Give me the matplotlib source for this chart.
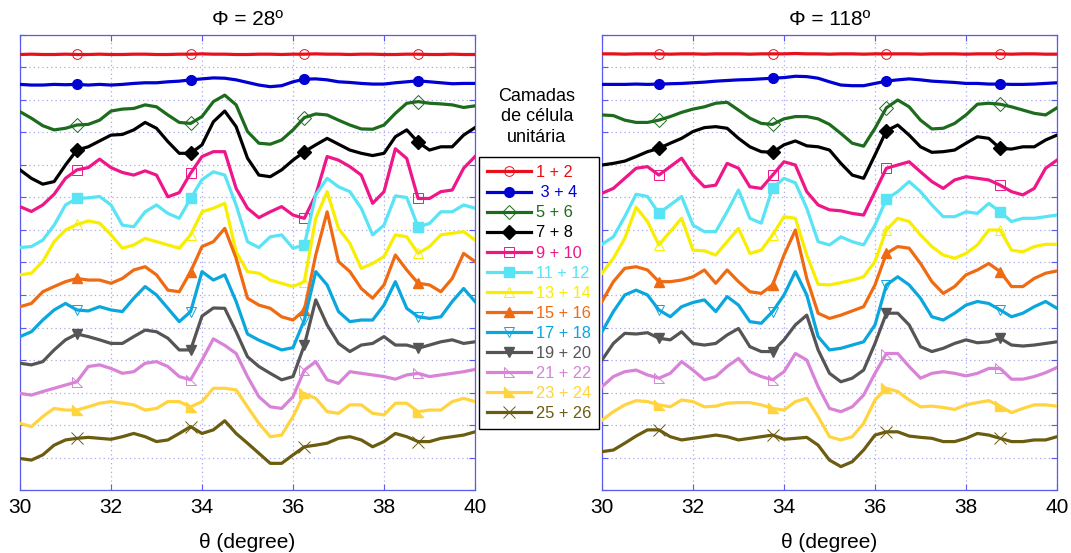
import numpy as np
import matplotlib.pyplot as plt
from matplotlib.path import Path

plt.rcParams['font.family'] = ['Liberation Sans', 'DejaVu Sans']

# x axis samples (degree)
theta = np.linspace(30, 40, 41)

labels = ['1 + 2', ' 3 + 4', '5 + 6', '7 + 8', '9 + 10', '11 + 12', '13 + 14',
          '15 + 16', '17 + 18', '19 + 20', '21 + 22', '23 + 24', '25 + 26']

# --- Phi = 28 ---
red_28 = [13.40, 13.41, 13.40, 13.40, 13.41, 13.40, 13.40, 13.41, 13.40, 13.40, 13.41,
          13.41, 13.40, 13.40, 13.41, 13.41, 13.42, 13.41, 13.41, 13.40, 13.40, 13.41,
          13.41, 13.40, 13.41, 13.41, 13.42, 13.41, 13.41, 13.40, 13.41, 13.41, 13.40,
          13.40, 13.41, 13.41, 13.40, 13.40, 13.41, 13.40, 13.40]
blue_28 = [12.48, 12.46, 12.46, 12.48, 12.47, 12.48, 12.46, 12.48, 12.46, 12.48, 12.51,
           12.53, 12.53, 12.56, 12.58, 12.62, 12.65, 12.68, 12.67, 12.62, 12.54, 12.46,
           12.41, 12.44, 12.56, 12.64, 12.65, 12.62, 12.56, 12.54, 12.51, 12.49, 12.49,
           12.53, 12.56, 12.59, 12.56, 12.53, 12.50, 12.51, 12.51]
green_28 = [11.64, 11.44, 11.21, 11.08, 11.13, 11.23, 11.25, 11.38, 11.66, 11.72, 11.74,
            11.85, 11.79, 11.54, 11.31, 11.28, 11.49, 11.95, 12.15, 11.85, 11.03, 10.67,
            10.64, 10.77, 11.08, 11.46, 11.57, 11.54, 11.38, 11.23, 11.11, 11.10, 11.23,
            11.59, 11.90, 11.95, 11.90, 11.88, 11.85, 11.77, 11.82]
black_28 = [9.85, 9.59, 9.41, 9.49, 10.00, 10.46, 10.56, 10.74, 10.92, 10.94, 11.08,
            11.31, 11.13, 10.72, 10.36, 10.36, 10.62, 11.33, 11.66, 11.18, 10.21, 9.69,
            9.64, 9.85, 10.15, 10.41, 10.62, 10.82, 10.64, 10.46, 10.36, 10.29, 10.36,
            10.87, 11.08, 10.70, 10.46, 10.56, 10.56, 10.92, 11.15]
magenta_28 = [8.72, 8.57, 8.77, 9.10, 9.59, 9.85, 9.92, 10.18, 9.92, 9.77, 9.69,
              9.82, 9.69, 9.02, 9.15, 9.75, 10.26, 10.41, 10.41, 9.28, 8.67, 8.38,
              8.56, 8.72, 8.46, 8.36, 9.08, 10.26, 10.15, 9.95, 9.69, 8.82, 9.18,
              10.50, 10.20, 8.97, 8.97, 9.18, 9.23, 9.90, 10.26]
cyan_28 = [7.46, 7.49, 7.69, 8.15, 8.77, 8.97, 8.99, 9.03, 8.77, 8.15, 8.10,
           8.56, 8.77, 8.51, 8.36, 8.97, 9.55, 9.79, 9.69, 8.77, 7.64, 7.46,
           7.79, 7.85, 7.44, 7.54, 9.08, 9.59, 9.33, 9.18, 8.67, 7.85, 8.15,
           9.05, 9.00, 8.10, 8.20, 8.56, 8.56, 8.77, 8.67]
yellow_28 = [6.62, 6.67, 7.03, 7.64, 8.00, 8.17, 8.28, 8.21, 7.85, 7.44, 7.54,
             7.74, 7.64, 7.54, 7.44, 7.85, 8.56, 8.67, 8.82, 7.33, 6.72, 6.67,
             6.46, 6.36, 6.26, 6.41, 8.36, 9.18, 8.05, 7.59, 6.82, 6.97, 7.18,
             7.85, 7.79, 7.28, 7.49, 7.85, 7.90, 7.95, 7.69]
orange_28 = [5.64, 5.74, 6.10, 6.26, 6.41, 6.51, 6.46, 6.46, 6.36, 6.51, 6.77,
             6.87, 6.62, 6.15, 6.10, 6.72, 7.49, 7.64, 8.05, 7.13, 5.90, 5.69,
             5.59, 5.33, 5.23, 5.54, 7.23, 8.56, 7.03, 6.72, 6.20, 5.90, 6.31,
             7.23, 6.77, 6.36, 6.31, 6.10, 6.51, 7.28, 7.03]
skyblue_28 = [4.72, 4.87, 5.23, 5.54, 5.74, 5.54, 5.51, 5.64, 5.54, 5.49, 5.90,
              6.26, 6.00, 5.59, 5.18, 5.49, 6.72, 6.46, 6.62, 5.80, 4.80, 4.61,
              4.46, 4.31, 4.38, 5.23, 6.72, 6.31, 5.49, 5.18, 5.23, 5.23, 5.69,
              6.41, 5.59, 5.33, 5.28, 5.33, 5.80, 6.20, 5.80]
gray_28 = [3.90, 3.85, 3.95, 4.31, 4.62, 4.80, 4.72, 4.62, 4.51, 4.51, 4.72,
           4.92, 4.87, 4.67, 4.31, 4.31, 5.35, 5.60, 5.59, 4.87, 4.10, 3.80,
           3.59, 3.39, 3.49, 4.46, 5.85, 5.08, 4.51, 4.26, 4.46, 4.51, 4.72,
           4.46, 4.46, 4.36, 4.46, 4.56, 4.62, 4.51, 4.56]
orchid_28 = [2.97, 2.92, 3.03, 3.13, 3.23, 3.33, 3.80, 3.85, 3.74, 3.59, 3.64,
             3.90, 3.95, 3.80, 3.49, 3.39, 4.00, 4.65, 4.45, 4.20, 3.49, 2.87,
             2.56, 2.51, 2.87, 3.69, 3.95, 3.39, 3.28, 3.64, 3.59, 3.54, 3.49,
             3.41, 3.54, 3.59, 3.49, 3.54, 3.59, 3.64, 3.71]
gold_28 = [2.05, 1.95, 2.26, 2.51, 2.46, 2.46, 2.56, 2.67, 2.72, 2.67, 2.62,
           2.46, 2.51, 2.72, 2.72, 2.56, 2.72, 3.13, 3.13, 3.08, 2.56, 2.05,
           1.64, 1.69, 2.26, 2.97, 2.82, 2.41, 2.36, 2.62, 2.62, 2.36, 2.31,
           2.67, 2.67, 2.41, 2.46, 2.46, 2.72, 2.82, 2.72]
olive_28 = [0.97, 0.92, 1.08, 1.38, 1.54, 1.59, 1.62, 1.59, 1.56, 1.64, 1.74,
            1.64, 1.49, 1.54, 1.74, 1.95, 1.74, 1.85, 2.13, 1.74, 1.44, 1.13,
            0.82, 0.82, 1.08, 1.33, 1.38, 1.44, 1.59, 1.64, 1.54, 1.33, 1.49,
            1.74, 1.64, 1.49, 1.49, 1.59, 1.64, 1.69, 1.79]

# --- Phi = 118 ---
red_118 = [13.42, 13.42, 13.41, 13.42, 13.42, 13.42, 13.41, 13.42, 13.42, 13.41, 13.42,
           13.42, 13.42, 13.41, 13.42, 13.42, 13.42, 13.43, 13.42, 13.42, 13.41, 13.42,
           13.42, 13.41, 13.42, 13.42, 13.42, 13.42, 13.41, 13.42, 13.42, 13.42, 13.41,
           13.42, 13.42, 13.42, 13.41, 13.42, 13.42, 13.41, 13.41]
blue_118 = [12.48, 12.48, 12.48, 12.49, 12.48, 12.49, 12.50, 12.51, 12.53, 12.55, 12.58,
            12.60, 12.62, 12.63, 12.65, 12.67, 12.69, 12.73, 12.72, 12.67, 12.56, 12.46,
            12.44, 12.44, 12.51, 12.58, 12.62, 12.65, 12.62, 12.58, 12.56, 12.54, 12.51,
            12.51, 12.49, 12.49, 12.48, 12.48, 12.49, 12.51, 12.53]
green_118 = [11.54, 11.52, 11.38, 11.31, 11.31, 11.38, 11.49, 11.62, 11.72, 11.79, 11.90,
             11.93, 11.69, 11.44, 11.28, 11.25, 11.42, 11.49, 11.49, 11.42, 11.25, 10.97,
             10.67, 10.58, 11.13, 11.76, 12.00, 11.79, 11.38, 11.11, 11.13, 11.28, 11.54,
             11.87, 11.90, 11.87, 11.79, 11.69, 11.59, 11.54, 11.76]
black_118 = [10.00, 10.05, 10.12, 10.26, 10.41, 10.51, 10.67, 10.82, 11.03, 11.15, 11.18,
             11.13, 10.82, 10.56, 10.41, 10.39, 10.62, 10.74, 10.59, 10.56, 10.46, 10.05,
             9.69, 9.59, 10.31, 11.05, 11.23, 10.92, 10.56, 10.39, 10.41, 10.46, 10.67,
             10.87, 10.82, 10.51, 10.49, 10.56, 10.56, 10.77, 10.92]
magenta_118 = [9.13, 9.28, 9.59, 9.90, 9.95, 9.69, 9.95, 10.21, 9.69, 9.33, 9.38,
               10.05, 9.90, 9.33, 9.28, 9.69, 10.10, 10.00, 9.18, 8.77, 8.62, 8.59,
               8.51, 8.46, 9.18, 9.90, 10.00, 10.10, 9.79, 9.49, 9.28, 9.54, 9.64,
               9.59, 9.54, 9.38, 9.18, 9.08, 9.28, 9.90, 10.15]
cyan_118 = [7.56, 7.79, 8.41, 9.10, 9.03, 8.51, 8.77, 9.03, 8.15, 7.95, 7.95,
            8.56, 9.23, 8.36, 8.21, 9.30, 9.59, 9.45, 8.67, 7.64, 7.54, 7.79,
            7.64, 7.54, 8.15, 8.95, 9.18, 9.49, 9.18, 8.77, 8.41, 8.41, 8.56,
            8.51, 8.82, 8.56, 8.26, 8.36, 8.36, 8.41, 8.46]
yellow_118 = [6.67, 7.13, 7.74, 8.70, 8.26, 7.54, 7.95, 8.36, 7.38, 7.36, 7.23,
              7.64, 8.05, 7.28, 7.38, 7.85, 8.41, 8.36, 7.23, 6.33, 6.31, 6.38,
              6.46, 6.56, 7.03, 8.00, 8.36, 8.26, 7.85, 7.49, 7.23, 7.13, 7.28,
              7.54, 8.00, 8.00, 7.38, 7.33, 7.49, 7.56, 7.56]
orange_118 = [5.80, 6.41, 6.82, 6.87, 6.77, 6.41, 6.41, 6.46, 6.56, 6.77, 6.36,
              6.77, 6.41, 6.10, 6.05, 6.31, 7.23, 8.00, 6.51, 5.44, 5.28, 5.38,
              5.51, 5.64, 6.31, 7.28, 7.49, 7.44, 6.97, 6.41, 6.05, 6.26, 6.62,
              6.77, 6.97, 6.72, 6.26, 6.26, 6.51, 6.67, 6.74]
skyblue_118 = [4.87, 5.49, 6.00, 6.15, 6.00, 5.54, 5.33, 5.64, 5.77, 5.85, 5.49,
               5.95, 5.69, 5.18, 5.13, 5.49, 6.00, 6.72, 6.00, 4.72, 4.31, 4.36,
               4.46, 4.56, 5.08, 6.31, 6.56, 6.31, 5.90, 5.33, 5.23, 5.44, 5.69,
               5.80, 5.74, 5.54, 5.33, 5.44, 5.64, 5.80, 5.59]
gray_118 = [4.00, 4.51, 4.82, 4.80, 4.84, 4.67, 4.62, 4.87, 4.51, 4.46, 4.51,
            4.77, 4.97, 4.41, 4.26, 4.26, 4.62, 5.08, 5.38, 4.31, 3.59, 3.33,
            3.44, 3.69, 4.51, 5.44, 5.44, 5.08, 4.41, 4.26, 4.36, 4.51, 4.62,
            4.53, 4.56, 4.67, 4.46, 4.43, 4.46, 4.51, 4.56]
orchid_118 = [3.18, 3.49, 3.64, 3.69, 3.54, 3.44, 3.59, 3.95, 3.69, 3.39, 3.49,
              3.80, 4.05, 3.64, 3.49, 3.39, 3.64, 4.20, 4.00, 3.18, 2.51, 2.41,
              2.56, 2.92, 3.59, 4.20, 4.20, 3.80, 3.44, 3.59, 3.64, 3.59, 3.51,
              3.59, 3.74, 3.74, 3.41, 3.41, 3.49, 3.61, 3.77]
gold_118 = [2.15, 2.41, 2.62, 2.75, 2.72, 2.62, 2.56, 2.77, 2.72, 2.56, 2.58,
            2.67, 2.69, 2.69, 2.62, 2.51, 2.46, 2.72, 2.82, 2.26, 1.64, 1.54,
            1.64, 2.05, 2.77, 3.13, 3.03, 2.77, 2.56, 2.58, 2.54, 2.48, 2.62,
            2.69, 2.75, 2.58, 2.38, 2.51, 2.62, 2.62, 2.58]
olive_118 = [1.18, 1.23, 1.44, 1.66, 1.85, 1.85, 1.64, 1.54, 1.59, 1.64, 1.69,
             1.64, 1.54, 1.59, 1.64, 1.69, 1.56, 1.59, 1.62, 1.38, 0.92, 0.72,
             0.87, 1.23, 1.69, 1.79, 1.79, 1.66, 1.62, 1.59, 1.49, 1.49, 1.59,
             1.74, 1.69, 1.59, 1.49, 1.49, 1.54, 1.54, 1.64]

series_28 = [red_28, blue_28, green_28, black_28, magenta_28, cyan_28, yellow_28,
             orange_28, skyblue_28, gray_28, orchid_28, gold_28, olive_28]
series_118 = [red_118, blue_118, green_118, black_118, magenta_118, cyan_118, yellow_118,
              orange_118, skyblue_118, gray_118, orchid_118, gold_118, olive_118]

colors = ['#e8101a', '#0000d2', '#1d6b1d', '#000000', '#ee1689', '#58e4f4', '#f8ee00',
          '#f06a12', '#0aa6de', '#555555', '#d883d8', '#ffd43e', '#6b5c10']

# right-angled triangle marker used by 21+22 and 23+24
rtri = Path([(-1, 1), (-1, -1), (1, -1), (-1, 1)],
            [Path.MOVETO, Path.LINETO, Path.LINETO, Path.CLOSEPOLY])
markers = ['o', 'o', 'D', 'D', 's', 's', '^', '^', 'v', 'v', rtri, rtri, 'x']
filled = [False, True, False, True, False, True, False, True, False, True, False, True, False]

frame_c = '#5a5aee'
grid_c = '#a8a8f0'
narrow = ['Liberation Sans Narrow', 'Liberation Sans', 'DejaVu Sans']

fig = plt.figure(figsize=(10.71, 5.53), dpi=100)
ax1 = fig.add_axes([20 / 1071, 63 / 553, 455 / 1071, 455 / 553])
ax2 = fig.add_axes([602 / 1071, 63 / 553, 455 / 1071, 455 / 553])

for ax, series, title in [(ax1, series_28, 'Φ = 28º'), (ax2, series_118, 'Φ = 118º')]:
    for y, c, m, f, lab in zip(series, colors, markers, filled, labels):
        ax.plot(theta, y, color=c, lw=2.3, marker=m, markevery=(5, 10),
                ms=7 if m != 'x' else 9,
                mfc=c if f else 'none', mec=c, mew=1.0 if f else 0.7,
                label=lab, zorder=3)
    ax.set_xlim(30, 40)
    ax.set_ylim(0, 14)
    ax.set_xticks(np.arange(30, 41, 2))
    ax.set_yticks(np.arange(0, 15, 1))
    ax.set_yticklabels([])
    ax.grid(True, linestyle=(0, (1, 2.5)), color=grid_c, lw=0.9)
    ax.tick_params(direction='in', length=4, color=frame_c, top=True, right=True,
                   labelsize=15, pad=6)
    for lbl in ax.get_xticklabels():
        lbl.set_family(narrow)
    for s in ax.spines.values():
        s.set_color(frame_c)
        s.set_linewidth(0.9)
    ax.set_title(title, fontsize=15, pad=7)
    ax.set_xlabel('θ (degree)', fontsize=15, labelpad=11, family=narrow)

handles, labs = ax1.get_legend_handles_labels()
leg = fig.legend(handles, labs, loc='upper left',
                 bbox_to_anchor=(479 / 1071, 1 - 157 / 553),
                 fontsize=11.8, handlelength=2.7, handletextpad=0.25,
                 labelspacing=0.31, borderpad=0.5, borderaxespad=0,
                 fancybox=False, edgecolor='black', framealpha=1)
leg.get_frame().set_linewidth(1.0)
for txt, c in zip(leg.get_texts(), colors):
    txt.set_color(c)

fig.text(537 / 1071, 1 - 88 / 553, 'Camadas\nde célula\nunitária', ha='center', va='top',
         fontsize=13, linespacing=1.25)

fig.savefig('out.png', dpi=100)
